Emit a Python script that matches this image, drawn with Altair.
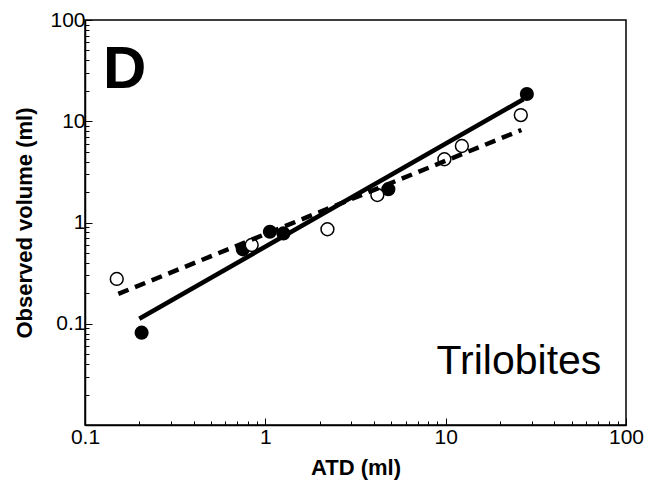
import altair as alt
import pandas as pd

# Data (log-log plot)
filled_x = [0.206, 0.75, 1.06, 1.26, 4.81, 28.2]
filled_y = [0.0816, 0.543, 0.81, 0.78, 2.13, 18.6]
open_x = [0.150, 0.84, 2.21, 4.18, 9.84, 12.3, 26.1]
open_y = [0.277, 0.60, 0.857, 1.87, 4.21, 5.7, 11.5]
solid_x = [0.2, 27.0]
solid_y = [0.112, 16.5]
dash_x = [0.153, 26.3]
dash_y = [0.197, 8.2]

x_major = [0.1, 1, 10, 100]
y_major = [0.01, 0.1, 1, 10, 100]
y_labelled = [0.1, 1, 10, 100]
minor_mult = [1, 2, 3, 4, 5, 6, 7, 8, 9]

panel_label = ["D"]
panel_label_x = [0.126]
panel_label_y = [21.3]
group_label = ["Trilobites"]
group_label_x = [8.9]
group_label_y = [0.0319]

FONT = "Liberation Sans"

x_ticks = [m * 10.0 ** e for e in range(-1, 2) for m in minor_mult] + [100]
y_ticks = [m * 10.0 ** e for e in range(-2, 2) for m in minor_mult] + [100]

tick_expr = "abs(log(datum.value)/LN10 - round(log(datum.value)/LN10)) < 0.001 ? -7 : -4"
label_expr = "indexof([0.1,1,10,100], datum.value) >= 0 ? format(datum.value, '~g') : ''"

x_axis = alt.Axis(
    values=x_ticks,
    labelExpr=label_expr,
    tickSize={"expr": tick_expr},
    labelFlush=False,
    labelOverlap=False,
    labelPadding=8,
    title="ATD (ml)",
    titleBaseline="alphabetic",
    titleY=49,
    titleFontSize=22,
    grid=False,
)
y_axis = alt.Axis(
    values=y_ticks,
    labelExpr=label_expr,
    tickSize={"expr": tick_expr},
    labelFlush=False,
    labelOverlap=False,
    labelPadding=7,
    title="Observed volume (ml)",
    titlePadding=13,
    titleFontSize=22,
    grid=False,
)
x_scale = alt.Scale(type="log", domain=[0.1, 100], nice=False)
y_scale = alt.Scale(type="log", domain=[0.01, 100], nice=False)


def X():
    return alt.X("x:Q", scale=x_scale, axis=x_axis)


def Y():
    return alt.Y("y:Q", scale=y_scale, axis=y_axis)


df_f = pd.DataFrame({"x": filled_x, "y": filled_y})
df_o = pd.DataFrame({"x": open_x, "y": open_y})
df_s = pd.DataFrame({"x": solid_x, "y": solid_y})
df_d = pd.DataFrame({"x": dash_x, "y": dash_y})
df_D = pd.DataFrame({"x": panel_label_x, "y": panel_label_y, "t": panel_label})
df_T = pd.DataFrame({"x": group_label_x, "y": group_label_y, "t": group_label})

filled = alt.Chart(df_f).mark_point(
    shape="circle", filled=True, color="black", size=200, opacity=1
).encode(x=X(), y=Y())

opened = alt.Chart(df_o).mark_point(
    shape="circle", filled=False, fill="white", fillOpacity=1, stroke="black",
    strokeWidth=1.5, size=165, opacity=1
).encode(x=X(), y=Y())

solid = alt.Chart(df_s).mark_line(color="black", strokeWidth=4.5).encode(x=X(), y=Y())
dashed = alt.Chart(df_d).mark_line(
    color="black", strokeWidth=4.5, strokeDash=[11, 7], strokeCap="butt"
).encode(x=X(), y=Y())

txt_D = alt.Chart(df_D).mark_text(
    align="left", baseline="alphabetic", font=FONT, fontSize=60, fontWeight="bold", color="black"
).encode(x=X(), y=Y(), text="t:N")
txt_T = alt.Chart(df_T).mark_text(
    align="left", baseline="alphabetic", font=FONT, fontSize=41, color="black"
).encode(x=X(), y=Y(), text="t:N")

chart = alt.layer(filled, opened, dashed, solid, txt_D, txt_T).properties(
    width=541,
    height=405,
    background="white",
    autosize=alt.AutoSizeParams(type="none"),
    padding={"left": 77, "top": 12, "right": 20, "bottom": 56},
).configure_view(
    stroke="black", strokeWidth=1.5
).configure_axis(
    domainColor="black",
    domainWidth=1.5,
    tickColor="black",
    tickWidth=1,
    labelColor="black",
    labelFont=FONT,
    labelFontSize=21,
    titleColor="black",
    titleFont=FONT,
    titleFontWeight="bold",
)

chart.save("out.html", embed_options={"renderer": "svg", "actions": False})
